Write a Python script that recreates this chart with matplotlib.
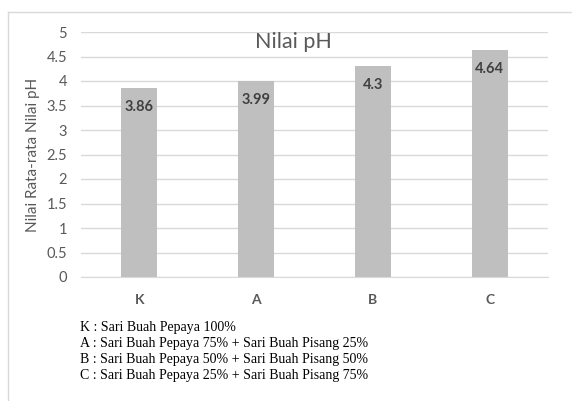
import matplotlib.pyplot as plt
from matplotlib.lines import Line2D

categories = ['K', 'A', 'B', 'C']
ph_values = [3.86, 3.99, 4.3, 4.64]
y_ticks = [0, 0.5, 1, 1.5, 2, 2.5, 3, 3.5, 4, 4.5, 5]
notes = [
    'K : Sari Buah Pepaya 100%',
    'A : Sari Buah Pepaya 75% + Sari Buah Pisang 25%',
    'B : Sari Buah Pepaya 50% + Sari Buah Pisang 50%',
    'C : Sari Buah Pepaya 25% + Sari Buah Pisang 75%',
]

plt.rcParams['font.family'] = ['Lato', 'DejaVu Sans']
text_grey = '#595959'

fig = plt.figure(figsize=(5.72, 4.01), dpi=100)
ax = fig.add_axes([81 / 572, 1 - 277 / 401, 467 / 572, 245 / 401])

x = range(len(categories))
bars = ax.bar(x, ph_values, width=0.31, color='#bfbfbf', zorder=2)
for rect, v in zip(bars, ph_values):
    ax.annotate(f'{v:g}', (rect.get_x() + rect.get_width() / 2, v),
                xytext=(0, -19), textcoords='offset pixels',
                ha='center', va='center', fontsize=10.5, fontweight='bold',
                color='#404040')

ax.set_xlim(-0.5, len(categories) - 0.5)
ax.set_ylim(0, 5)
ax.set_yticks(y_ticks)
ax.set_yticklabels([f'{t:g}' for t in y_ticks])
ax.set_xticks(list(x))
ax.set_xticklabels(categories, fontweight='bold')
ax.tick_params(axis='y', length=0, pad=10, labelsize=10.5, labelcolor=text_grey)
ax.tick_params(axis='x', length=0, pad=12, labelsize=10, labelcolor=text_grey)
ax.grid(axis='y', color='#d9d9d9', linewidth=1, zorder=0)
for side in ['top', 'right', 'left']:
    ax.spines[side].set_visible(False)
ax.spines['bottom'].set_color('#d9d9d9')

ax.set_ylabel('Nilai Rata-rata Nilai pH', fontsize=11, color=text_grey, labelpad=5)
fig.text(293 / 572, 1 - 42 / 401, 'Nilai pH', ha='center', va='center',
         fontsize=15.5, color=text_grey)

# legend-like notes under the chart
for i, line in enumerate(notes):
    fig.text(80 / 572, 1 - (328 + i * 16) / 401, line, ha='left', va='center',
             fontsize=10, family=['Liberation Serif'], color='#000000')

# outer frame
frame_col = '#d9d9d9'
fig.add_artist(Line2D([8 / 572, 1], [1 - 12 / 401] * 2, color=frame_col, lw=1,
                      transform=fig.transFigure))
fig.add_artist(Line2D([8 / 572] * 2, [0, 1 - 12 / 401], color=frame_col, lw=1,
                      transform=fig.transFigure))

fig.savefig('out.png', dpi=100)
